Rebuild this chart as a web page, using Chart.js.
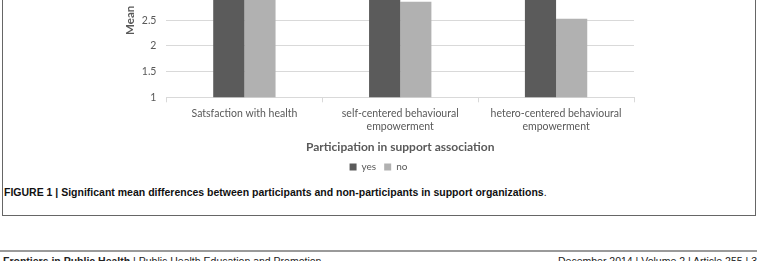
<!DOCTYPE html>
<html lang="en">
<head>
  <meta charset="UTF-8">
  <title>Figure 1 – Participation in support association</title>
  <script src="https://cdn.jsdelivr.net/npm/chart.js@4.4.1/dist/chart.umd.min.js"></script>
  <style>
    body { margin: 0; width: 761px; height: 261px; overflow: hidden; position: relative; background: #fff; }
    .fig-box { position: absolute; left: 2px; top: -100px; width: 754px; height: 316px; border: 1px solid #666; box-sizing: border-box; }
    .chart-wrap { position: absolute; left: 3px; top: -73px; width: 752px; height: 255px; }
    .caption { position: absolute; left: 4px; top: 186px; font: bold 10.5px "Liberation Sans", Arial, sans-serif; color: #111; white-space: nowrap; }
    .caption span { font-weight: normal; }
    .rule { position: absolute; left: 0; top: 250px; width: 757px; height: 2px; background: #9a9a9a; }
    .footer { position: absolute; top: 255px; font: 10.5px "Liberation Sans", Arial, sans-serif; color: #222; white-space: nowrap; }
  </style>
</head>
<body>
  <div class="fig-box"></div>
  <div class="chart-wrap"><canvas id="barChart"></canvas></div>
  <div class="caption">FIGURE 1 | Significant mean differences between participants and non-participants in support organizations<span>.</span></div>
  <div class="rule"></div>
  <div class="footer" style="left:3px"><b>Frontiers in Public Health</b> | Public Health Education and Promotion</div>
  <div class="footer" style="right:4px">December 2014 | Volume 2 | Article 255 | 3</div>

  <script>
    // chart data
    const categories = [
      'Satsfaction with health',
      ['self-centered behavioural', 'empowerment'],
      ['hetero-centered behavioural', 'empowerment']
    ];
    const yesValues = [3.25, 3.2, 3.15];
    const noValues = [3.1, 2.86, 2.53];
    const yTicks = [1, 1.5, 2, 2.5, 3, 3.5, 4];

    const grey = '#595959';
    const gridGrey = '#d9d9d9';
    const font = 'Lato';

    const ctx = document.getElementById('barChart').getContext('2d');
    new Chart(ctx, {
      type: 'bar',
      data: {
        labels: categories,
        datasets: [
          { label: 'yes', data: yesValues, backgroundColor: '#5b5b5b', categoryPercentage: 0.4, barPercentage: 1.0 },
          { label: 'no', data: noValues, backgroundColor: '#b1b1b1', categoryPercentage: 0.4, barPercentage: 1.0 }
        ]
      },
      options: {
        responsive: true,
        maintainAspectRatio: false,
        animation: false,
        layout: { padding: { left: 120, right: 121, top: 0, bottom: 0 } },
        plugins: {
          tooltip: { enabled: false },
          legend: {
            position: 'bottom',
            labels: {
              boxWidth: 7, boxHeight: 7, padding: 8, color: grey,
              font: { family: font, size: 10 }
            }
          }
        },
        scales: {
          x: {
            grid: { display: true, drawOnChartArea: false, drawTicks: true, tickLength: 5, color: gridGrey, offset: true },
            border: { display: true, color: gridGrey },
            ticks: { color: grey, padding: 4, maxRotation: 0, font: { family: font, size: 10.5, lineHeight: 1.3 } },
            title: {
              display: true, text: 'Participation in support association', color: grey,
              padding: { top: 2, bottom: 0 }, font: { family: font, size: 12, weight: 'bold' }
            }
          },
          y: {
            min: yTicks[0],
            max: yTicks[yTicks.length - 1],
            afterBuildTicks: (axis) => { axis.ticks = yTicks.map(v => ({ value: v })); },
            grid: { color: gridGrey, drawTicks: false },
            border: { display: false },
            ticks: { color: grey, padding: 10, font: { family: font, size: 10.5 }, callback: (v) => String(v) },
            title: {
              display: true, text: 'Mean', color: grey,
              padding: { top: 0, bottom: -5 }, font: { family: font, size: 11.5, weight: 'bold' }
            }
          }
        }
      }
    });
  </script>
</body>
</html>
